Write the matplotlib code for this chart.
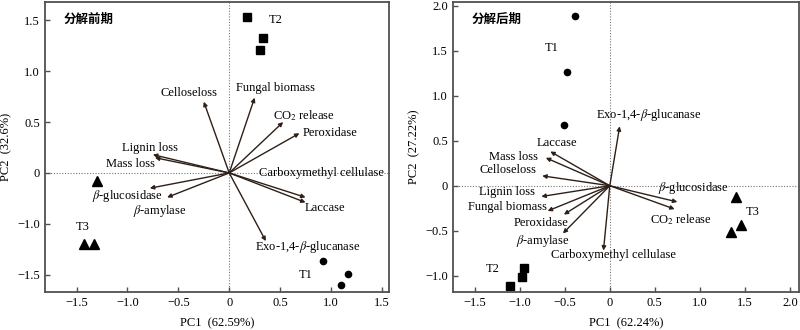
import matplotlib
matplotlib.use("Agg")
import matplotlib.pyplot as plt

plt.rcParams['font.family'] = ['Liberation Serif', 'Noto Sans CJK SC', 'DejaVu Sans']
plt.rcParams['mathtext.fontset'] = 'stix'
plt.rcParams['font.size'] = 9

# ---- early decomposition (left panel) ----
early_vars = ['Celloseloss', 'Fungal biomass', 'CO$_2$ release', 'Peroxidase',
              'Lignin loss', 'Mass loss', r'$\beta$-glucosidase', r'$\beta$-amylase',
              'Carboxymethyl cellulase', 'Laccase', r'Exo-1,4-$\beta$-glucanase']
early_pc1 = [-0.25, 0.25, 0.53, 0.69, -0.75, -0.73, -0.78, -0.61, 0.75, 0.75, 0.36]
early_pc2 = [0.70, 0.74, 0.50, 0.39, 0.18, 0.15, -0.15, -0.24, -0.24, -0.29, -0.67]

early_t1_x = [0.92, 1.17, 1.10]
early_t1_y = [-0.87, -0.99, -1.10]
early_t2_x = [0.17, 0.33, 0.30]
early_t2_y = [1.53, 1.33, 1.21]
early_t3_x = [-1.30, -1.43, -1.33]
early_t3_y = [-0.08, -0.70, -0.70]

# ---- late decomposition (right panel) ----
late_vars = [r'Exo-1,4-$\beta$-glucanase', 'Laccase', 'Mass loss', 'Celloseloss',
             'Lignin loss', 'Fungal biomass', 'Peroxidase', r'$\beta$-amylase',
             'Carboxymethyl cellulase', r'$\beta$-glucosidase', 'CO$_2$ release']
late_pc1 = [0.11, -0.66, -0.71, -0.75, -0.76, -0.69, -0.51, -0.52, -0.07, 0.75, 0.72]
late_pc2 = [0.66, 0.38, 0.31, 0.11, -0.12, -0.28, -0.32, -0.53, -0.72, -0.18, -0.26]

late_t1_x = [-0.39, -0.48, -0.51]
late_t1_y = [1.89, 1.26, 0.67]
late_t2_x = [-0.95, -0.97, -1.11]
late_t2_y = [-0.91, -1.01, -1.11]
late_t3_x = [1.40, 1.46, 1.35]
late_t3_y = [-0.12, -0.44, -0.51]

# label positions (layout only)
early_lab = [(-0.40, 0.79, 'center'), (0.45, 0.83, 'center'), (0.73, 0.56, 'center'),
             (0.72, 0.39, 'left'), (-0.78, 0.25, 'center'), (-0.97, 0.09, 'center'),
             (-1.00, -0.23, 'center'), (-0.68, -0.37, 'center'), (0.91, 0.0, 'center'),
             (0.94, -0.34, 'center'), (0.77, -0.73, 'center')]
late_lab = [(0.43, 0.78, 'center'), (-0.59, 0.47, 'center'), (-1.07, 0.32, 'center'),
            (-1.13, 0.17, 'center'), (-1.14, -0.07, 'center'), (-1.13, -0.24, 'center'),
            (-0.76, -0.41, 'center'), (-0.74, -0.61, 'center'), (0.04, -0.77, 'center'),
            (0.93, -0.02, 'center'), (0.79, -0.38, 'center')]

arrow_col = '#2e2018'
spine_col = '#505050'


def minus(v):
    s = f"{v:.1f}"
    if v == 0:
        return "0"
    return s.replace('-', '\u2212')


def draw_panel(ax, vars_, px, py, labs, t1, t2, t3, title, xlabel, ylabel,
               xlim, ylim, xticks, yticks, yticklabels, tlabs):
    ax.axhline(0, color='#777777', lw=0.8, ls=(0, (1, 1.5)), zorder=1)
    ax.axvline(0, color='#777777', lw=0.8, ls=(0, (1, 1.5)), zorder=1)
    for name, x, y, (lx, ly, ha) in zip(vars_, px, py, labs):
        ax.annotate('', xy=(x, y), xytext=(0, 0),
                    arrowprops=dict(arrowstyle='-|>', color=arrow_col, lw=1.0,
                                    mutation_scale=6, shrinkA=0, shrinkB=0), zorder=3)
        ax.text(lx, ly, name, ha=ha, va='center', fontsize=9)
    ax.plot(t1[0], t1[1], 'o', color='black', ms=4.5, ls='none')
    ax.plot(t2[0], t2[1], 's', color='black', ms=5.5, ls='none')
    ax.plot(t3[0], t3[1], '^', color='black', ms=6.5, ls='none')
    for name, (lx, ly) in zip(['T1', 'T2', 'T3'], tlabs):
        ax.text(lx, ly, name, ha='center', va='center', fontsize=9)
    ax.text(0.055, 0.94, title, transform=ax.transAxes, ha='left', va='center',
            fontsize=9, fontweight='bold', family=['Noto Sans CJK SC'])
    ax.set_xlim(*xlim)
    ax.set_ylim(*ylim)
    ax.set_xticks(xticks)
    ax.set_xticklabels([minus(v) for v in xticks])
    ax.set_yticks(yticks)
    ax.set_yticklabels(yticklabels)
    ax.tick_params(direction='in', length=3.5, width=1, color=spine_col, labelsize=9)
    for s in ax.spines.values():
        s.set_color(spine_col)
        s.set_linewidth(1.3)
    ax.set_xlabel(xlabel, fontsize=9, labelpad=6)
    ax.set_ylabel(ylabel, fontsize=9, labelpad=4)


fig = plt.figure(figsize=(8, 3.3), dpi=100)
ax1 = fig.add_axes([45 / 800, 38 / 330, 344 / 800, 290 / 330])
ax2 = fig.add_axes([453 / 800, 38 / 330, 346 / 800, 290 / 330])

draw_panel(ax1, early_vars, early_pc1, early_pc2, early_lab,
           (early_t1_x, early_t1_y), (early_t2_x, early_t2_y), (early_t3_x, early_t3_y),
           '分解前期', 'PC1  (62.59%)', 'PC2  (32.6%)',
           (-1.81, 1.57), (-1.17, 1.68),
           [-1.5, -1.0, -0.5, 0, 0.5, 1.0, 1.5],
           [1.5, 1.0, 0.5, 0, -0.5, -1.0],
           ['1.5', '1.0', '0.5', '0', '\u22121.0', '\u22121.5'],
           [(0.75, -1.0), (0.46, 1.50), (-1.44, -0.53)])

draw_panel(ax2, late_vars, late_pc1, late_pc2, late_lab,
           (late_t1_x, late_t1_y), (late_t2_x, late_t2_y), (late_t3_x, late_t3_y),
           '分解后期', 'PC1  (62.24%)', 'PC2  (27.22%)',
           (-1.74, 2.1), (-1.18, 2.04),
           [-1.5, -1.0, -0.5, 0, 0.5, 1.0, 1.5, 2.0],
           [2.0, 1.5, 1.0, 0.5, 0, -0.5, -1.0],
           ['2.0', '1.5', '1.0', '0.5', '0', '\u22120.5', '\u22121.0'],
           [(-0.65, 1.53), (-1.30, -0.93), (1.59, -0.29)])

fig.savefig('out.png', dpi=100)
